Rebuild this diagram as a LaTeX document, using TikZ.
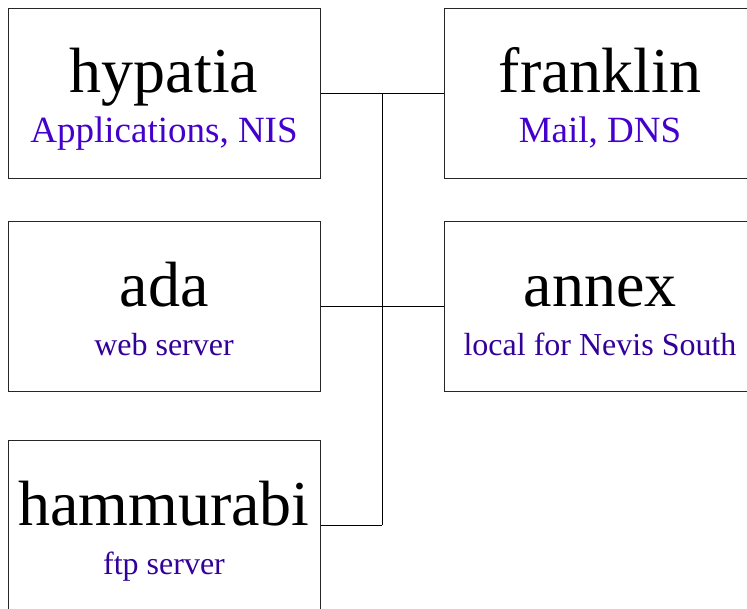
\documentclass[tikz,border=0pt]{standalone}
\usepackage{fontspec}
\setmainfont{Liberation Serif}
\usetikzlibrary{positioning}
\usetikzlibrary{calc}
\definecolor{roleblue}{RGB}{68,0,204}
\definecolor{rolenavy}{RGB}{51,0,153}

\begin{document}
\begin{tikzpicture} [
            x=1pt, y=-1pt,
            hostbox/.style={draw=black!85, line width=1pt, minimum width=312pt, minimum height=170pt, inner sep=0pt},
            hostname/.style={anchor=base, inner sep=0pt, font=\fontsize{64}{64}\selectfont},
            role/.style={anchor=base, inner sep=0pt, text=rolenavy, font=\fontsize{32}{32}\selectfont},
            bigrole/.style={role, text=roleblue, font=\fontsize{37}{37}\selectfont},
            wire/.style={draw=black, line width=1pt}
        ]
        \clip (0,0) rectangle (747,608);
        % boxes
        \node[hostbox] (hypatia) at (164,93) {};
        \node[hostbox] (franklin) at (600,93) {};
        \node[hostbox] (ada) at (164,306.5) {};
        \node[hostbox] (annex) at (600,306.5) {};
        \node[hostbox] (hammurabi) at (164,525) {};
        % names and roles
        \node[hostname] (hypatianame) at ([yshift=1]hypatia.center) {hypatia};
        \node[bigrole] (hypatiarole) at ([yshift=-49]hypatia.center) {Applications, NIS};
        \node[hostname] (franklinname) at ([yshift=1]franklin.center) {franklin};
        \node[bigrole] (franklinrole) at ([yshift=-49]franklin.center) {Mail, DNS};
        \node[hostname] (adaname) at ([yshift=0]ada.center) {ada};
        \node[role] (adarole) at ([yshift=-49]ada.center) {web server};
        \node[hostname] (annexname) at ([yshift=0]annex.center) {annex};
        \node[role] (annexrole) at ([yshift=-49]annex.center) {local for Nevis South};
        \node[hostname] (hammurabiname) at ([yshift=0]hammurabi.center) {hammurabi};
        \node[role] (hammurabirole) at ([yshift=-49]hammurabi.center) {ftp server};
        % network
        \coordinate (bustop) at (382,93);
        \coordinate (busend) at (382,525);
        \draw[wire] (bustop) -- (busend);
        \draw[wire] (hypatia.east) -- (franklin.west);
        \draw[wire] (ada.east) -- (annex.west);
        \draw[wire] (hammurabi.east) -- (busend);
    \end{tikzpicture}
\end{document}
